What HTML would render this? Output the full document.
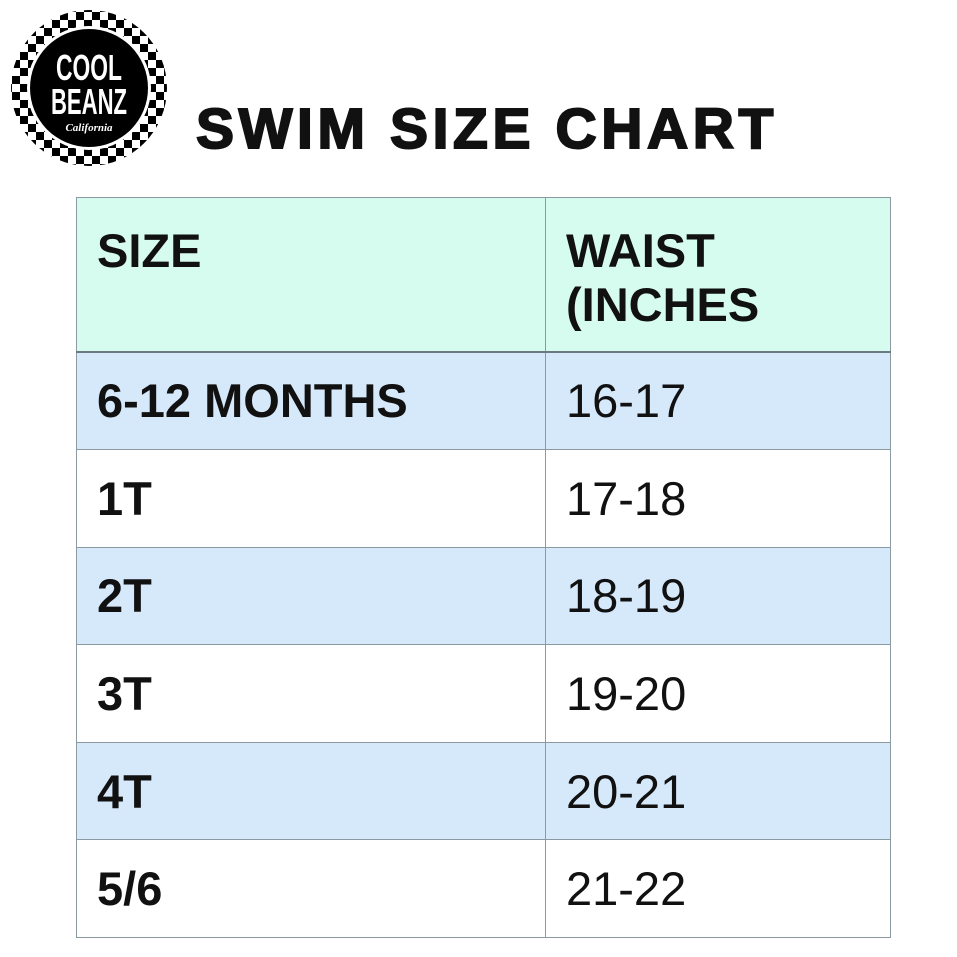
<!DOCTYPE html>
<html><head><style>
body{margin:0;width:957px;height:957px;background:#fff;position:relative;overflow:hidden;font-family:"Liberation Sans",Arial,sans-serif}
.title{position:absolute;left:196px;top:96px;font-size:57px;font-weight:bold;letter-spacing:4.6px;color:#111;white-space:nowrap;-webkit-text-stroke:2px #111}
table{position:absolute;left:76px;top:197px;border-collapse:collapse;width:815px}
td{border:1.5px solid #8a9aa0;font-size:47px;color:#111;padding:0 0 0 20px;height:96.6px;vertical-align:middle}
td:first-child{font-weight:bold;width:448px}
tr.h td{background:#d6fcef;height:154px;vertical-align:top;padding-top:26px;line-height:54px;font-weight:bold;box-sizing:border-box}
tr.h td{border-bottom:2px solid #6a7a80}
tr.b td{background:#d6e9fb}
</style></head><body>
<svg style="position:absolute;left:0;top:0" width="180" height="180">
<defs><pattern id="c" width="16" height="16" patternUnits="userSpaceOnUse" x="4" y="4"><rect width="16" height="16" fill="#fff"/><rect width="8" height="8" fill="#000"/><rect x="8" y="8" width="8" height="8" fill="#000"/></pattern></defs>
<circle cx="89" cy="88" r="78" fill="url(#c)"/>
<circle cx="89" cy="88" r="62" fill="#fff"/>
<circle cx="89" cy="88" r="59" fill="#000"/>
<text x="89" y="80" text-anchor="middle" fill="#fff" font-family="Liberation Sans Narrow,Liberation Sans,sans-serif" font-weight="bold" font-size="36" textLength="66" lengthAdjust="spacingAndGlyphs">COOL</text>
<text x="89" y="114" text-anchor="middle" fill="#fff" font-family="Liberation Sans Narrow,Liberation Sans,sans-serif" font-weight="bold" font-size="36" textLength="76" lengthAdjust="spacingAndGlyphs">BEANZ</text>
<text x="89" y="131" text-anchor="middle" fill="#fff" font-family="Liberation Serif,serif" font-style="italic" font-weight="bold" font-size="11">California</text>
</svg>
<div class="title">SWIM SIZE CHART</div>
<table>
<tr class="h"><td>SIZE</td><td>WAIST<br>(INCHES</td></tr>
<tr class="b"><td>6-12 MONTHS</td><td>16-17</td></tr>
<tr><td>1T</td><td>17-18</td></tr>
<tr class="b"><td>2T</td><td>18-19</td></tr>
<tr><td>3T</td><td>19-20</td></tr>
<tr class="b"><td>4T</td><td>20-21</td></tr>
<tr><td>5/6</td><td>21-22</td></tr>
</table>
</body></html>
